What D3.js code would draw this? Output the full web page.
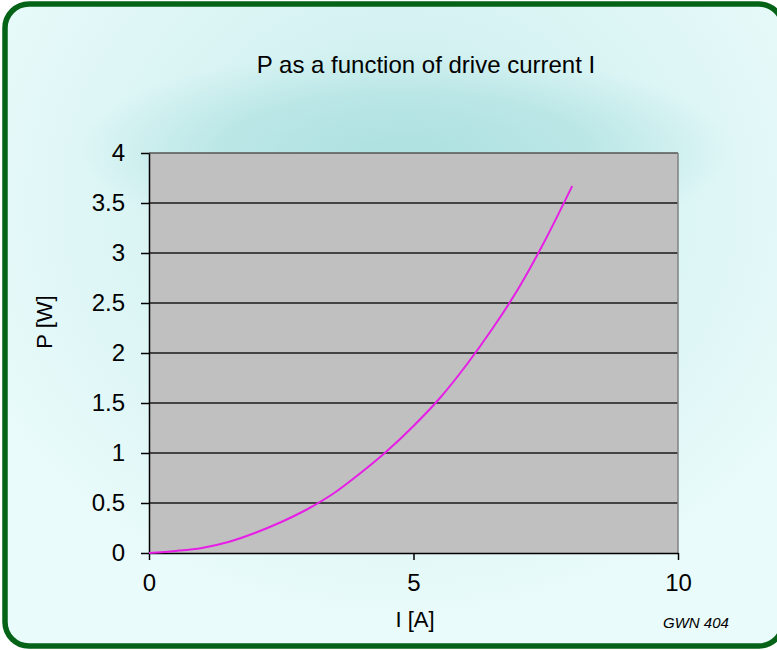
<!DOCTYPE html>
<html>
<head>
<meta charset="utf-8">
<script src="https://cdn.jsdelivr.net/npm/d3@7"></script>
<style>
  body { margin: 0; background: #fff; }
  svg { display: block; font-family: "Liberation Sans", Arial, sans-serif; }
</style>
</head>
<body>
<svg id="chart" width="777" height="650"></svg>
<script>
// drive current I [A] and power P [W]
var current = [0, 0.5, 1, 1.5, 2, 2.5, 3, 3.5, 4, 4.5, 5, 5.5, 6, 6.5, 7, 7.5, 8];
var power   = [0, 0.02, 0.05, 0.11, 0.20, 0.31, 0.44, 0.60, 0.80, 1.02, 1.27, 1.55, 1.88, 2.25, 2.66, 3.14, 3.67];
var xTicks = [0, 5, 10];
var yTicks = [0, 0.5, 1, 1.5, 2, 2.5, 3, 3.5, 4];

var svg = d3.select('#chart');
var margin = { top: 153, right: 99, bottom: 97, left: 149 };
var width = 777 - margin.left - margin.right,
    height = 650 - margin.top - margin.bottom;

var defs = svg.append('defs');
var bg = defs.append('radialGradient').attr('id', 'bg')
  .attr('gradientUnits', 'userSpaceOnUse')
  .attr('cx', 400).attr('cy', 200).attr('r', 480)
  .attr('gradientTransform', 'translate(400,200) scale(1,0.9) translate(-400,-200)');
bg.append('stop').attr('offset', '0%').attr('stop-color', '#c8ecec');
bg.append('stop').attr('offset', '100%').attr('stop-color', '#eafbfb');

var glow = defs.append('radialGradient').attr('id', 'glow')
  .attr('gradientUnits', 'userSpaceOnUse')
  .attr('cx', 405).attr('cy', 150).attr('r', 330)
  .attr('gradientTransform', 'translate(405,150) scale(1,0.3) translate(-405,-150)');
glow.append('stop').attr('offset', '0%').attr('stop-color', '#aadfdf').attr('stop-opacity', 0.85);
glow.append('stop').attr('offset', '55%').attr('stop-color', '#aadfdf').attr('stop-opacity', 0.6);
glow.append('stop').attr('offset', '100%').attr('stop-color', '#aadfdf').attr('stop-opacity', 0);

svg.append('rect')
  .attr('x', 5).attr('y', 4).attr('width', 778).attr('height', 642)
  .attr('rx', 24).attr('ry', 24)
  .attr('fill', 'url(#bg)');
svg.append('rect')
  .attr('x', 5).attr('y', 4).attr('width', 778).attr('height', 642)
  .attr('rx', 24).attr('ry', 24)
  .attr('fill', 'url(#glow)')
  .attr('stroke', '#056318').attr('stroke-width', 5.5);

var x = d3.scaleLinear().domain([0, 10]).range([0, width]);
var y = d3.scaleLinear().domain([0, 4]).range([height, 0]);

var g = svg.append('g').attr('transform', 'translate(' + margin.left + ',' + margin.top + ')');

g.append('rect')
  .attr('width', width).attr('height', height)
  .attr('fill', '#c0c0c0');

// horizontal gridlines
g.selectAll('.grid').data(yTicks.slice(1)).enter().append('line')
  .attr('x1', 0).attr('x2', width)
  .attr('y1', function(d) { return y(d); })
  .attr('y2', function(d) { return y(d); })
  .attr('stroke', function(d) { return d === 4 ? '#555' : '#1a1a1a'; })
  .attr('stroke-width', 1.5);

// right border
g.append('line')
  .attr('x1', width).attr('x2', width).attr('y1', 0).attr('y2', height)
  .attr('stroke', '#808080').attr('stroke-width', 1.5);

var yAxis = g.append('g')
  .call(d3.axisLeft(y).tickValues(yTicks).tickSize(8).tickPadding(16).tickSizeOuter(0)
    .tickFormat(function(d) { return d; }));
var xAxis = g.append('g').attr('transform', 'translate(0,' + height + ')')
  .call(d3.axisBottom(x).tickValues(xTicks).tickSize(7).tickPadding(14).tickSizeOuter(0));

[xAxis, yAxis].forEach(function(a) {
  a.select('.domain').attr('stroke', '#000').attr('stroke-width', 1.5);
  a.selectAll('line').attr('stroke', '#000').attr('stroke-width', 1.5);
  a.selectAll('text').attr('fill', '#000').style('font-size', '24px')
    .style('font-family', '"Liberation Sans", Arial, sans-serif');
});

var line = d3.line()
  .x(function(d, i) { return x(current[i]); })
  .y(function(d) { return y(d); })
  .curve(d3.curveMonotoneX);

g.append('path')
  .datum(power)
  .attr('d', line)
  .attr('fill', 'none')
  .attr('stroke', '#e61ee6')
  .attr('stroke-width', 2);

svg.append('text')
  .attr('x', 426).attr('y', 73)
  .attr('text-anchor', 'middle')
  .style('font-size', '24px')
  .text('P as a function of drive current I');

svg.append('text')
  .attr('transform', 'translate(52,322) rotate(-90)')
  .attr('text-anchor', 'middle')
  .style('font-size', '22px')
  .text('P [W]');

svg.append('text')
  .attr('x', 415).attr('y', 627)
  .attr('text-anchor', 'middle')
  .style('font-size', '22px')
  .text('I [A]');

svg.append('text')
  .attr('x', 663).attr('y', 628)
  .style('font-size', '15px')
  .style('font-style', 'italic')
  .text('GWN 404');
</script>
</body>
</html>
